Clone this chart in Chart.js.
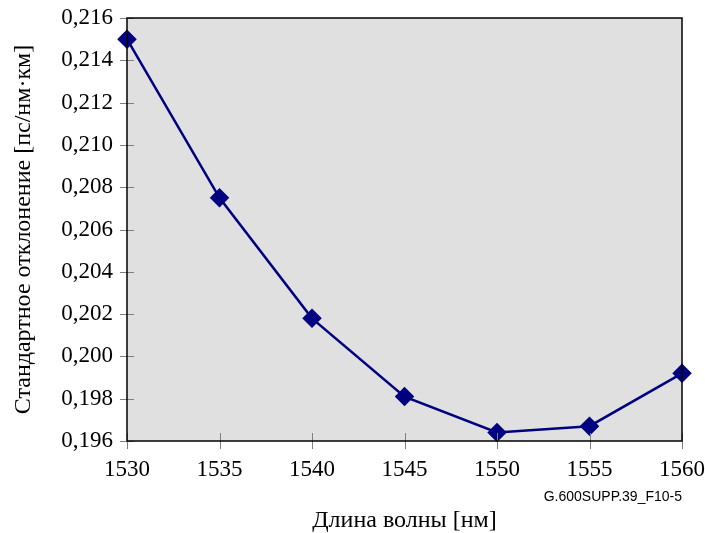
<!DOCTYPE html>
<html>
<head>
<meta charset="utf-8">
<script src="https://cdn.jsdelivr.net/npm/chart.js@4/dist/chart.umd.min.js"></script>
<style>
  html, body { margin: 0; padding: 0; background: #fff; }
  #wrap { width: 705px; height: 533px; }
</style>
</head>
<body>
<div id="wrap"><canvas id="chart"></canvas></div>
<script>
// wavelength, nm
var wavelengths = [1530, 1535, 1540, 1545, 1550, 1555, 1560];
// standard deviation, ps/(nm*km)
var stdDev = [0.2150, 0.2075, 0.2018, 0.1981, 0.1964, 0.1967, 0.1992];
var xTicks = [1530, 1535, 1540, 1545, 1550, 1555, 1560];
var yTicks = [0.196, 0.198, 0.200, 0.202, 0.204, 0.206, 0.208, 0.210, 0.212, 0.214, 0.216];

var serif = "'Liberation Serif', 'Times New Roman', serif";

// gray plot area, black frame, ticks crossing the axes, figure number
var frame = {
  id: 'frame',
  beforeDraw: function (chart) {
    var a = chart.chartArea, ctx = chart.ctx;
    ctx.save();
    ctx.fillStyle = '#e0e0e0';
    ctx.fillRect(a.left, a.top, a.right - a.left, a.bottom - a.top);
    ctx.restore();
  },
  afterDatasetsDraw: function (chart) {
    var a = chart.chartArea, ctx = chart.ctx;
    var xs = chart.scales.x, ys = chart.scales.y;
    ctx.save();
    ctx.strokeStyle = '#808080';
    ctx.lineWidth = 1;
    ctx.beginPath();
    yTicks.forEach(function (v) {
      var y = Math.round(ys.getPixelForValue(v)) + 0.5;
      ctx.moveTo(a.left - 7, y);
      ctx.lineTo(a.left + 7, y);
    });
    xTicks.forEach(function (v) {
      var x = Math.round(xs.getPixelForValue(v)) + 0.5;
      ctx.moveTo(x, a.bottom - 8);
      ctx.lineTo(x, a.bottom + 8);
    });
    ctx.stroke();
    ctx.strokeStyle = '#000';
    ctx.lineWidth = 1.5;
    ctx.strokeRect(a.left, a.top, a.right - a.left, a.bottom - a.top);
    ctx.fillStyle = '#000';
    ctx.font = "14px 'Liberation Sans', Arial, sans-serif";
    ctx.textAlign = 'right';
    ctx.textBaseline = 'middle';
    ctx.fillText('G.600SUPP.39_F10-5', a.right, 497);
    ctx.restore();
  }
};

var ctx = document.getElementById('chart').getContext('2d');
new Chart(ctx, {
  type: 'line',
  data: {
    datasets: [{
      data: wavelengths.map(function (w, i) { return { x: w, y: stdDev[i] }; }),
      borderColor: '#000080',
      backgroundColor: '#000080',
      borderWidth: 2.5,
      pointStyle: 'rectRot',
      pointRadius: 8,
      pointHoverRadius: 8,
      tension: 0,
      clip: false
    }]
  },
  options: {
    responsive: true,
    maintainAspectRatio: false,
    animation: false,
    layout: { padding: { top: 18, right: 23, left: 0, bottom: 0 } },
    plugins: { legend: { display: false }, tooltip: { enabled: false } },
    scales: {
      x: {
        type: 'linear',
        min: 1530,
        max: 1560,
        afterFit: function (s) { s.height = 92; s.paddingLeft = 0; s.paddingRight = 0; },
        afterBuildTicks: function (s) { s.ticks = xTicks.map(function (v) { return { value: v }; }); },
        grid: { display: false, drawTicks: false },
        border: { display: false },
        ticks: {
          padding: 15,
          color: '#000',
          font: { family: serif, size: 23 },
          maxRotation: 0,
          callback: function (v) { return String(v); }
        },
        title: {
          display: true,
          text: 'Длина волны [нм]',
          color: '#000',
          font: { family: serif, size: 24 },
          padding: { top: 0, bottom: -2 }
        }
      },
      y: {
        type: 'linear',
        min: 0.196,
        max: 0.216,
        afterFit: function (s) { s.width = 127; s.paddingTop = 0; s.paddingBottom = 0; },
        afterBuildTicks: function (s) { s.ticks = yTicks.map(function (v) { return { value: v }; }); },
        grid: { display: false, drawTicks: false },
        border: { display: false },
        ticks: {
          padding: 14,
          color: '#000',
          font: { family: serif, size: 23 },
          callback: function (v) { return v.toFixed(3).replace('.', ','); }
        },
        title: {
          display: true,
          text: 'Стандартное отклонение [пс/нм·км]',
          color: '#000',
          font: { family: serif, size: 24 },
          padding: { top: 9, bottom: 0 }
        }
      }
    }
  },
  plugins: [frame]
});
</script>
</body>
</html>
